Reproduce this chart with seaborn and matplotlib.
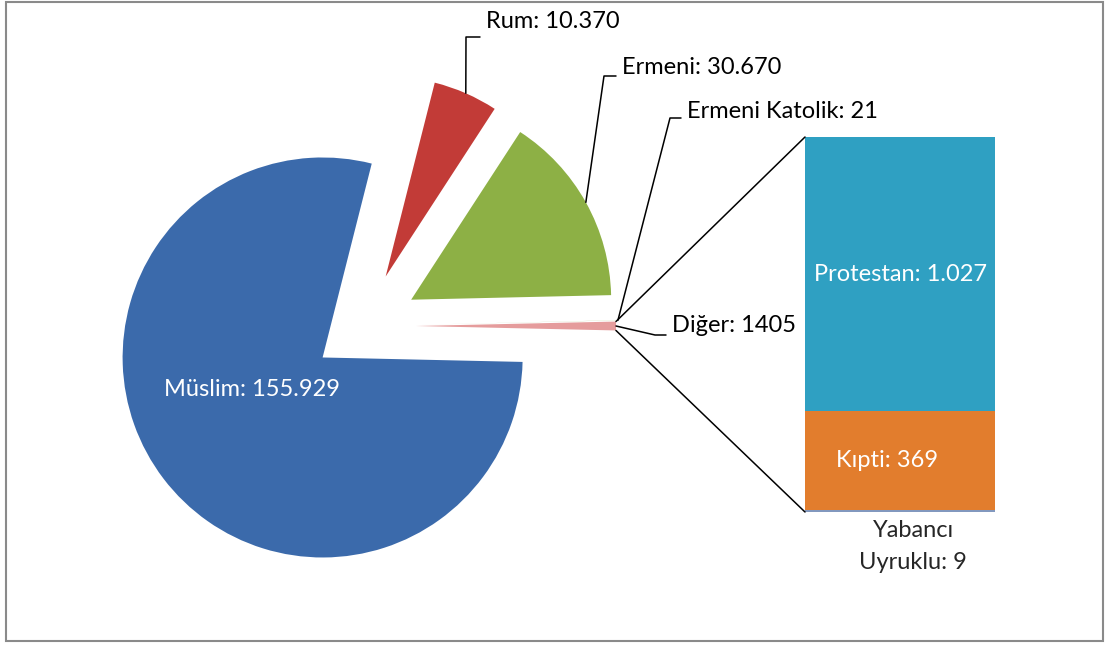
import numpy as np
import matplotlib
matplotlib.use("Agg")
import matplotlib.pyplot as plt
import seaborn as sns
from matplotlib.patches import ConnectionPatch, Rectangle

# pie data
pie_labels = ["Müslim", "Rum", "Ermeni", "Ermeni Katolik", "Diğer"]
pie_values = [155929, 10370, 30670, 21, 1405]
pie_text = ["155.929", "10.370", "30.670", "21", "1405"]
pie_colors = ["#3B6AAB", "#C23B37", "#8DB045", "#9BB55A", "#E59C9C"]

# bar data (breakdown of "Diğer"), bottom to top
bar_labels = ["Yabancı\nUyruklu", "Kıpti", "Protestan"]
bar_values = [9, 369, 1027]
bar_text = ["9", "369", "1.027"]
bar_colors = ["#8298BE", "#E27D2D", "#2FA0C2"]

sns.set_style("white")
plt.rcParams["font.family"] = ["Lato", "DejaVu Sans"]
FS = 17

W, H = 1107, 646
fig = plt.figure(figsize=(W / 100, H / 100), dpi=100)
ax = fig.add_axes([0, 0, 1, 1])

total = sum(pie_values)
start = -360 * pie_values[-1] / total / 2
R = 200
cx, cy = 364, H - 326
explode = [52, 54, 54, 54, 52]
wedges, _ = ax.pie(pie_values, colors=pie_colors, startangle=start,
                   counterclock=False, radius=R, center=(cx, cy),
                   explode=explode, frame=True,
                   wedgeprops=dict(linewidth=0))
ax.set_xlim(0, W)
ax.set_ylim(0, H)
ax.set_aspect("auto")
ax.axis("off")


def arc_mid(w):
    a = np.deg2rad((w.theta1 + w.theta2) / 2)
    return w.center[0] + w.r * np.cos(a), w.center[1] + w.r * np.sin(a)


# label inside Müslim
ax.text(252, H - 390, f"{pie_labels[0]}: {pie_text[0]}", color="white",
        fontsize=FS, ha="center", va="center")

# outside labels with leader lines: (elbow x, elbow y, text x, text y)
leaders = {1: (466, 37, 486, 22), 2: (604, 76, 622, 67),
           3: (670, 118, 687, 111), 4: (655, 335, 672, 326)}
for i, (ex, ey, tx, ty) in leaders.items():
    px, py = arc_mid(wedges[i])
    ax.plot([px, ex, tx - 6], [py, H - ey, H - ey], color="black", lw=1.1)
    ax.text(tx, H - ty, f"{pie_labels[i]}: {pie_text[i]}", fontsize=FS,
            ha="left", va="center", color="black")

# stacked bar for "Diğer"
bax = fig.add_axes([805 / W, (H - 512) / H, 190 / W, 375 / H])
cum = np.cumsum(bar_values)
for i in reversed(range(len(bar_values))):
    sns.barplot(x=["Diğer"], y=[cum[i]], color=bar_colors[i], width=1.0,
                saturation=1, ax=bax, linewidth=0)
bax.set_xlim(-0.5, 0.5)
bax.set_ylim(0, cum[-1])
bax.axis("off")

for i, dx in [(1, -0.07), (2, 0)]:
    bax.text(dx, cum[i] - bar_values[i] / 2, f"{bar_labels[i]}: {bar_text[i]}",
             color="white", fontsize=FS, ha="center", va="center")
bax.annotate(f"{bar_labels[0]}: {bar_text[0]}", xy=(0.07, 0), xytext=(0, -6),
             textcoords="offset points", ha="center", va="top",
             fontsize=FS, linespacing=1.65, annotation_clip=False)

# connector lines from the "Diğer" slice to the bar
dw = wedges[4]
for ang, yb in [(max(dw.theta1, dw.theta2), cum[-1]), (min(dw.theta1, dw.theta2), 0)]:
    a = np.deg2rad(ang)
    p = (dw.center[0] + dw.r * np.cos(a), dw.center[1] + dw.r * np.sin(a))
    con = ConnectionPatch(xyA=p, coordsA=ax.transData, xyB=(-0.5, yb),
                          coordsB=bax.transData, color="black", lw=1.1)
    fig.add_artist(con)

# chart frame
ax.add_patch(Rectangle((6, H - 641), 1097, 639, fill=False,
                       edgecolor="#8a8a8a", lw=1.5))

fig.savefig("out.png", dpi=100)
